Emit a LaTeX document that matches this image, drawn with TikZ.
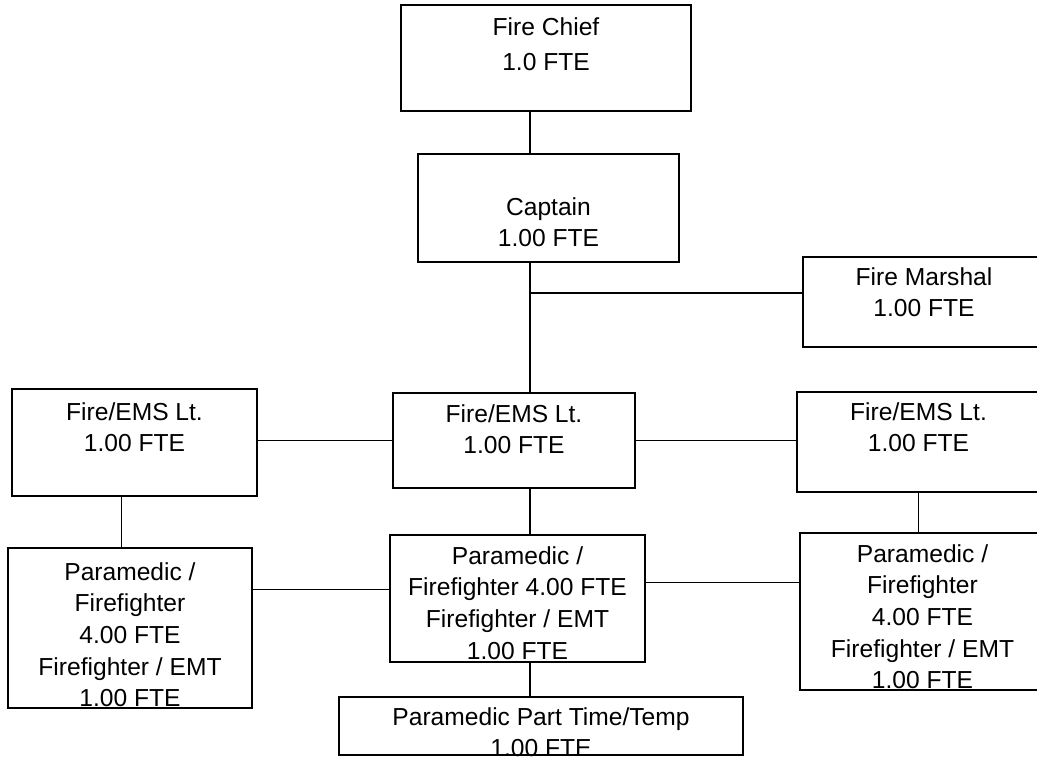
\documentclass[tikz,border=0pt]{standalone}
\usepackage{fontspec}
\setmainfont{Liberation Sans}
\usetikzlibrary{positioning,calc,fit}
\tikzset{
  doboz/.style={draw,line width=1pt,inner sep=0pt},
  vonal/.style={line width=0.9pt},
  felirat/.style={anchor=north,align=center,inner sep=0pt,font=\fontsize{14}{18}\selectfont},
}

\begin{document}
\begin{tikzpicture}[x=0.02cm,y=-0.02cm]
  \useasboundingbox (0,0) rectangle (1037,757);
  \clip (0,0) rectangle (1037,757);
  \node[doboz,fit={(401,5) (691,111)}] (fonok) {};
  \node[doboz,fit={(418,154) (679,262)}] (kapitany) {};
  \node[doboz,fit={(803,257) (1045,347)}] (marsall) {};
  \node[doboz,fit={(12,389) (257,496)}] (bal-lt) {};
  \node[doboz,fit={(393,393) (635,488)}] (kozep-lt) {};
  \node[doboz,fit={(797,392) (1040,492)}] (jobb-lt) {};
  \node[doboz,fit={(8,548) (252,708)}] (bal-pm) {};
  \node[doboz,fit={(390,535) (645,662)}] (kozep-pm) {};
  \node[doboz,fit={(800,533) (1045,690)}] (jobb-pm) {};
  \node[doboz,fit={(339,697) (743,755)}] (reszm) {};

  \node[felirat,font=\fontsize{14}{20}\selectfont] (fonok-t) at ($(fonok.north)+(0,13)$) {Fire Chief\\1.0 FTE};
  \node[felirat] (kapitany-t) at ($(kapitany.north)+(0,44)$) {Captain\\1.00 FTE};
  \node[felirat] (marsall-t) at ($(marsall.north)+(0,11)$) {Fire Marshal\\1.00 FTE};
  \node[felirat] (bal-lt-t) at ($(bal-lt.north)+(0,14)$) {Fire/EMS Lt.\\1.00 FTE};
  \node[felirat] (kozep-lt-t) at ($(kozep-lt.north)+(0,12)$) {Fire/EMS Lt.\\1.00 FTE};
  \node[felirat] (jobb-lt-t) at ($(jobb-lt.north)+(0,11)$) {Fire/EMS Lt.\\1.00 FTE};
  \node[felirat] (bal-pm-t) at ($(bal-pm.north)+(0,15)$)
    {Paramedic /\\Firefighter\\4.00 FTE\\Firefighter / EMT\\1.00 FTE};
  \node[felirat] (kozep-pm-t) at ($(kozep-pm.north)+(0,12)$)
    {Paramedic /\\Firefighter 4.00 FTE\\Firefighter / EMT\\1.00 FTE};
  \node[felirat] (jobb-pm-t) at ($(jobb-pm.north)+(0,12)$)
    {Paramedic /\\Firefighter\\4.00 FTE\\Firefighter / EMT\\1.00 FTE};
  \node[felirat] (reszm-t) at ($(reszm.north)+(0,11)$) {Paramedic Part Time/Temp\\1.00 FTE};

  \coordinate (gerinc) at (530,0);
  \coordinate (elag) at (530,293);
  \draw[vonal] (fonok.south -| gerinc) -- (kapitany.north -| gerinc);
  \draw[vonal] (kapitany.south -| gerinc) -- (kozep-lt.north -| gerinc);
  \draw[vonal] (marsall.west |- elag) -- (elag);
  \draw[vonal] (bal-lt.east |- kozep-lt.west) -- (kozep-lt.west);
  \draw[vonal] (kozep-lt.east) -- (kozep-lt.east -| jobb-lt.west);
  \draw[vonal] ($(bal-lt.south)+(-13,0)$) coordinate (bal-le) -- (bal-le |- bal-pm.north);
  \draw[vonal] (kozep-lt.south -| gerinc) -- (kozep-pm.north -| gerinc);
  \draw[vonal] (jobb-lt.south) -- (jobb-lt.south |- jobb-pm.north);
  \draw[vonal] ($(kozep-pm.west)+(0,-9)$) coordinate (bal-ag) -- (bal-ag -| bal-pm.east);
  \draw[vonal] ($(kozep-pm.east)+(0,-16)$) coordinate (jobb-ag) -- (jobb-ag -| jobb-pm.west);
  \draw[vonal] (kozep-pm.south -| gerinc) -- (reszm.north -| gerinc);
\end{tikzpicture}
\end{document}
